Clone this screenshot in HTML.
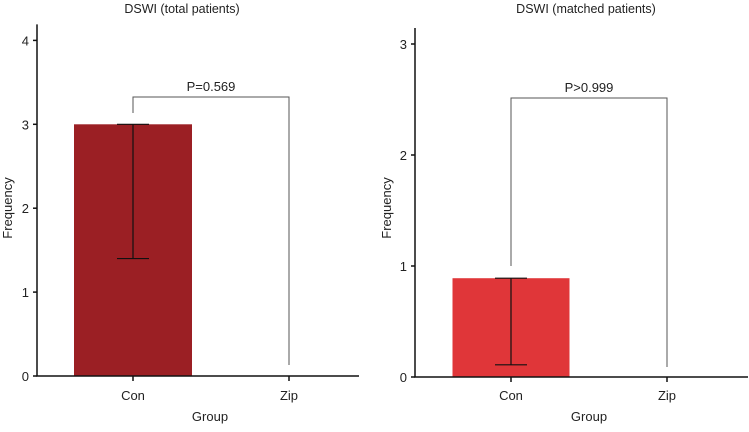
<!DOCTYPE html>
<html><head><meta charset="utf-8"><style>
body{margin:0;background:#fff;width:749px;height:427px;overflow:hidden}
svg text{font-family:"Liberation Sans",sans-serif;fill:#222}
</style></head><body>
<svg id="c" width="749" height="427"></svg>
<script>
const categories=["Con","Zip"];
const leftValues=[3,0];
const leftErrLow=[1.4,0];
const rightValues=[0.89,0];
const rightErrLow=[0.11,0];
const leftTicks=[0,1,2,3,4];
const rightTicks=[0,1,2,3];
const pLabels=["P=0.569","P>0.999"];
const titles=["DSWI (total patients)","DSWI (matched patients)"];
const svg=document.getElementById('c');
const NS="http://www.w3.org/2000/svg";
function mk(t,a,txt){const e=document.createElementNS(NS,t);for(const k in a)e.setAttribute(k,a[k]);if(txt!==undefined)e.textContent=txt;svg.appendChild(e);return e;}
const panels=[
 {x0:37,x1:359,y0:376,unit:83.9,cx:[133,289],bw:118,vals:leftValues,lo:leftErrLow,ticks:leftTicks,color:"#9b1f24",brY:97,legL:113,legR:365,title:titles[0],p:pLabels[0],tx:182,gx:210,fx:8},
 {x0:415,x1:748,y0:377,unit:111,cx:[511,667],bw:117,vals:rightValues,lo:rightErrLow,ticks:rightTicks,color:"#e03639",brY:98,legL:266,legR:367,title:titles[1],p:pLabels[1],tx:586,gx:589,fx:387}
];
panels.forEach((P,pi)=>{
 const y=v=>P.y0-v*P.unit;
 let e;
 e=mk('text',{x:P.tx,y:13,'font-size':12.5,'text-anchor':'middle'},P.title);
 
 P.vals.forEach((v,i)=>{
  if(v>0){e=mk('rect',{x:P.cx[i]-P.bw/2,y:y(v),width:P.bw,height:v*P.unit,fill:P.color});
  
  e=mk('path',{d:`M${P.cx[i]},${y(v)}V${y(P.lo[i])}M${P.cx[i]-16},${y(v)}h32M${P.cx[i]-16},${y(P.lo[i])}h32`,stroke:'#111','stroke-width':1.2,fill:'none'});
  }
 });
 e=mk('path',{d:`M${P.cx[0]},${P.legL}V${P.brY}H${P.cx[1]}V${P.legR}`,stroke:'#555','stroke-width':1,fill:'none'});
 
 e=mk('text',{x:(P.cx[0]+P.cx[1])/2,y:P.brY-6,'font-size':13,'text-anchor':'middle'},P.p);
 
 e=mk('path',{d:`M${P.x0},${y(P.ticks[P.ticks.length-1])-16}V${P.y0}H${P.x1}`,stroke:'#111','stroke-width':1.5,fill:'none'});
 
 P.ticks.forEach(t=>{
  mk('path',{d:`M${P.x0-4},${y(t)}H${P.x0}`,stroke:'#111','stroke-width':1.5});
  e=mk('text',{x:P.x0-8,y:y(t)+5,'font-size':13,'text-anchor':'end'},t);
  
 });
 categories.forEach((c,i)=>{
  mk('path',{d:`M${P.cx[i]},${P.y0}v5`,stroke:'#111','stroke-width':1.5});
  e=mk('text',{x:P.cx[i],y:400,'font-size':13,'text-anchor':'middle'},c);
  
 });
 e=mk('text',{x:P.gx,y:421,'font-size':13,'text-anchor':'middle'},'Group');
 
 e=mk('text',{x:P.fx,y:208,'font-size':13,'text-anchor':'middle',transform:`rotate(-90 ${P.fx} 208)`,dy:4},'Frequency');
 
});
</script>
</body></html>
